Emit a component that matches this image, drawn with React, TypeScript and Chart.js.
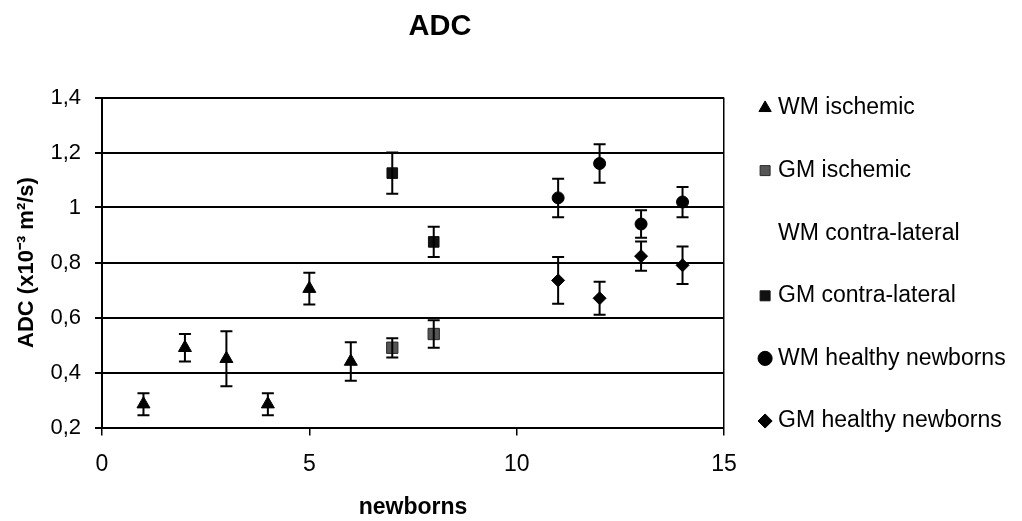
import React, { useEffect, useRef } from "react";
import { Chart, registerables } from "chart.js";

Chart.register(...registerables);

const FONT = "'Liberation Sans', Arial, Helvetica, sans-serif";

// newborn index (x) per series
const wmIschemicX = [1, 2, 3, 4, 5, 6];
const wmIschemicY = [0.285, 0.49, 0.45, 0.285, 0.705, 0.44];
const wmIschemicErr = [0.04, 0.05, 0.1, 0.04, 0.058, 0.07];

const gmIschemicX = [7, 8];
const gmIschemicY = [0.49, 0.54];
const gmIschemicErr = [0.035, 0.05];

const wmContraX: number[] = [];
const wmContraY: number[] = [];
const wmContraErr: number[] = [];

const gmContraX = [7, 8];
const gmContraY = [1.125, 0.875];
const gmContraErr = [0.075, 0.055];

const wmHealthyX = [11, 12, 13, 14];
const wmHealthyY = [1.035, 1.16, 0.94, 1.02];
const wmHealthyErr = [0.07, 0.07, 0.05, 0.055];

const gmHealthyX = [11, 12, 13, 14];
const gmHealthyY = [0.735, 0.67, 0.823, 0.79];
const gmHealthyErr = [0.085, 0.06, 0.053, 0.068];

const seriesLabels = [
  "WM ischemic",
  "GM ischemic",
  "WM contra-lateral",
  "GM contra-lateral",
  "WM healthy newborns",
  "GM healthy newborns",
];

const chartTitle = "ADC";
const xTitle = "newborns";
const yTitle = "ADC (x10\u207B\u00B3 m\u00B2/s)";

const toPoints = (xs: number[], ys: number[]) => xs.map((x, i) => ({ x, y: ys[i] }));

const errorBarPlugin = {
  id: "errorBars",
  afterDatasetsDraw(chart: any) {
    const { ctx, scales } = chart;
    const xs = scales.x;
    const ys = scales.y;
    ctx.save();
    ctx.strokeStyle = "#000";
    ctx.lineWidth = 2;
    chart.data.datasets.forEach((ds: any) => {
      const errs: number[] = ds.errors || [];
      ds.data.forEach((p: any, i: number) => {
        const e = errs[i];
        if (e == null) return;
        const px = xs.getPixelForValue(p.x);
        const top = ys.getPixelForValue(p.y + e);
        const bot = ys.getPixelForValue(p.y - e);
        ctx.beginPath();
        ctx.moveTo(px, top);
        ctx.lineTo(px, bot);
        ctx.moveTo(px - 6, top);
        ctx.lineTo(px + 6, top);
        ctx.moveTo(px - 6, bot);
        ctx.lineTo(px + 6, bot);
        ctx.stroke();
      });
    });
    ctx.restore();
  },
};

const mainTitlePlugin = {
  id: "mainTitle",
  afterDraw(chart: any) {
    const { ctx } = chart;
    ctx.save();
    ctx.fillStyle = "#000";
    ctx.font = `bold 29px ${FONT}`;
    ctx.textAlign = "center";
    ctx.textBaseline = "middle";
    ctx.fillText(chartTitle, 440, 27);
    ctx.restore();
  },
};

const legendWidthPlugin = {
  id: "legendWidth",
  beforeLayout(chart: any) {
    const lg = chart.legend;
    if (lg && !lg.__patched) {
      const orig = lg.fit;
      lg.fit = function () {
        orig.call(this);
        this.width = 298;
      };
      lg.__patched = true;
    }
  },
};

export default function App() {
  const ref = useRef<HTMLCanvasElement | null>(null);

  useEffect(() => {
    if (!ref.current) return;
    const chart = new Chart(ref.current, {
      type: "scatter",
      data: {
        datasets: [
          {
            label: seriesLabels[0],
            data: toPoints(wmIschemicX, wmIschemicY),
            pointStyle: "triangle",
            pointRadius: 7.5,
            backgroundColor: "#000",
            borderColor: "#000",
            errors: wmIschemicErr,
          } as any,
          {
            label: seriesLabels[1],
            data: toPoints(gmIschemicX, gmIschemicY),
            pointStyle: "rect",
            pointRadius: 8,
            backgroundColor: "#555",
            borderColor: "#2a2a2a",
            borderWidth: 1,
            errors: gmIschemicErr,
          } as any,
          {
            label: seriesLabels[2],
            data: toPoints(wmContraX, wmContraY),
            pointStyle: "circle",
            pointRadius: 6,
            backgroundColor: "rgba(0,0,0,0)",
            borderColor: "rgba(0,0,0,0)",
            errors: wmContraErr,
          } as any,
          {
            label: seriesLabels[3],
            data: toPoints(gmContraX, gmContraY),
            pointStyle: "rect",
            pointRadius: 7.5,
            backgroundColor: "#111",
            borderColor: "#111",
            errors: gmContraErr,
          } as any,
          {
            label: seriesLabels[4],
            data: toPoints(wmHealthyX, wmHealthyY),
            pointStyle: "circle",
            pointRadius: 6,
            backgroundColor: "#000",
            borderColor: "#000",
            errors: wmHealthyErr,
          } as any,
          {
            label: seriesLabels[5],
            data: toPoints(gmHealthyX, gmHealthyY),
            pointStyle: "rectRot",
            pointRadius: 6.5,
            backgroundColor: "#000",
            borderColor: "#000",
            errors: gmHealthyErr,
          } as any,
        ],
      },
      options: {
        responsive: false,
        animation: false,
        layout: { padding: { top: 8, right: 0, bottom: 0, left: 0 } },
        plugins: {
          tooltip: { enabled: false },
          title: {
            display: true,
            text: "",
            font: { size: 20 },
            padding: { top: 65.5, bottom: 0 },
          },
          legend: {
            position: "right",
            align: "center",
            maxWidth: 298,
            labels: {
              usePointStyle: true,
              boxWidth: 3,
              boxHeight: 10,
              padding: 39.6,
              color: "#000",
              font: { family: FONT, size: 23 },
            },
          },
        },
        scales: {
          x: {
            type: "linear",
            min: 0,
            max: 15,
            afterFit: (s: any) => {
              s.height = 93.5;
            },
            ticks: {
              stepSize: 5,
              color: "#000",
              padding: 15,
              font: { family: FONT, size: 23 },
            },
            grid: {
              drawOnChartArea: true,
              color: (c: any) => (c.tick && c.tick.value === 15 ? "#000" : "rgba(0,0,0,0)"),
              lineWidth: 1.5,
              tickColor: "#000",
              tickLength: 8,
            },
            border: { display: true, color: "#000", width: 2 },
            title: {
              display: true,
              text: xTitle,
              color: "#000",
              font: { family: FONT, size: 23, weight: "bold" },
              padding: { top: 15, bottom: 0 },
            },
          },
          y: {
            type: "linear",
            min: 0.2,
            max: 1.4,
            afterFit: (s: any) => {
              s.width = 102;
            },
            ticks: {
              stepSize: 0.2,
              color: "#000",
              padding: 14,
              font: { family: FONT, size: 22 },
              callback: (v: any) => String(Math.round(Number(v) * 10) / 10).replace(".", ","),
            },
            grid: {
              color: "#000",
              lineWidth: 2,
              tickColor: "#000",
              tickLength: 7,
            },
            border: { display: true, color: "#000", width: 2 },
            title: {
              display: true,
              text: yTitle,
              color: "#000",
              font: { family: FONT, size: 22, weight: "bold" },
              padding: { top: 14, bottom: 4 },
            },
          },
        },
      },
      plugins: [errorBarPlugin, mainTitlePlugin, legendWidthPlugin],
    } as any);
    return () => chart.destroy();
  }, []);

  return (
    <div style={{ position: "absolute", left: 0, top: 0, width: 1022, height: 521, background: "#fff" }}>
      <canvas ref={ref} width={1022} height={521} />
    </div>
  );
}
